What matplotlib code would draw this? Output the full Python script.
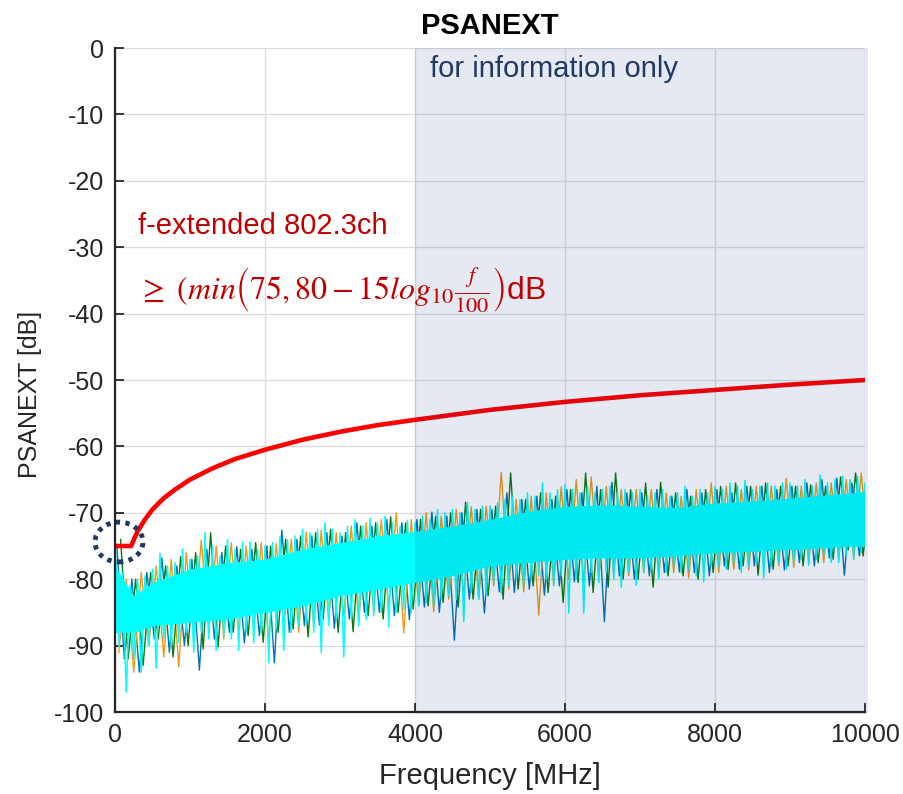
import matplotlib
matplotlib.use("Agg")
import matplotlib.pyplot as plt
from matplotlib.patches import Ellipse, Rectangle
import numpy as np

plt.rcParams['font.family'] = ['Liberation Sans', 'DejaVu Sans']
plt.rcParams['axes.unicode_minus'] = False

# limit line
limit_f = [0, 215, 300, 400, 500, 650, 800, 1000, 1300, 1600, 2000, 2500, 3000,
           3500, 4000, 5000, 6000, 7000, 8000, 9000, 10000]
limit_db = [-75, -75, -72.8, -71.0, -69.5, -67.8, -66.5, -65.0, -63.3, -61.9, -60.5,
            -59.0, -57.8, -56.8, -56.0, -54.5, -53.3, -52.3, -51.5, -50.7, -50.0]

# solid core of the measured mass
band_f = [0, 250, 500, 1000, 1500, 2000, 2500, 3000, 3500, 4000, 4500, 5000, 5500,
          6000, 6500, 7000, 7500, 8000, 8500, 9000, 9500, 10000]
band_hi = [-78, -82.5, -80.5, -78.5, -77.5, -77, -75.5, -74.5, -73.5, -72.8, -72, -71,
           -69.8, -69, -68.8, -69, -69.2, -68.5, -68.2, -67.8, -67.3, -66.8]
band_lo = [-88, -88, -87, -86.5, -86, -85, -84, -82.5, -81.5, -80.5, -79.5, -78, -77.5,
           -77, -76.8, -76.8, -76.5, -76, -75.8, -75.5, -75.2, -75]

# cyan trace, every 50 MHz from 0 to 10000
cyan_db = [-74, -90, -79, -97, -81, -92, -80, -94, -79.5, -90,
           -78.5, -93.4, -76.1, -89, -78, -90, -77.5, -89.5, -75.5, -88,
           -77, -91, -76.5, -88, -73, -89, -75, -90.7, -76.5, -88.5,
           -74, -89, -75.5, -90.7, -74.5, -88, -74.4, -89.6, -75.5, -88,
           -75, -92.6, -74.5, -87.5, -73.5, -90.7, -74, -88, -73.5, -87,
           -72.5, -86.5, -73, -88, -72.5, -91.1, -71.5, -87, -72.5, -86,
           -73, -91.7, -72, -86, -71, -87, -72, -86.1, -70.8, -85.5,
           -71.5, -85, -70.5, -87.2, -71.5, -85, -72, -84.5, -71.1, -85,
           -71.5, -84, -70.5, -83.5, -71, -84, -69.5, -83, -70, -82.5,
           -69.5, -83, -70, -86.4, -68.5, -82, -69.5, -83, -69, -82.5,
           -69, -80.5, -68.5, -82.1, -68, -81, -67.5, -80, -68, -81,
           -67, -80, -67.5, -79.5, -65.5, -80, -67, -81, -66.5, -79.5,
           -65.8, -85.1, -66.5, -80, -67, -85.1, -66, -79, -67, -80.5,
           -66.5, -79, -66, -80, -67, -81.2, -66.5, -79, -67, -80.9,
           -66.5, -79, -67.5, -78.5, -67, -80, -66.5, -79, -67.5, -78,
           -67, -79, -66, -78.5, -67.5, -79.5, -66.5, -80.4, -67, -78,
           -66, -78, -66.5, -78.5, -65.5, -77.5, -66, -79, -65.1, -78,
           -66.5, -77.5, -66, -79.8, -65.5, -78, -66, -77.5, -65.5, -78.5,
           -65.5, -77.5, -66, -77, -65, -77.9, -66, -77, -64.3, -76.5,
           -65.5, -77.5, -65, -77.5, -64.5, -76.5, -65, -77, -64.5, -76,
           -65.5]

# other traces, every 100 MHz (shifted by 25, 50 and 75 MHz)
blue_db = [-75, -92, -80, -94, -79, -89, -76.8, -91, -78, -90,
           -77, -93.7, -75.5, -89, -76, -88, -75.1, -89.6, -75.5, -88.5,
           -75, -92.6, -72.6, -88, -74, -87, -73.5, -86.9, -73, -87.4,
           -73.5, -86, -71.5, -85, -72, -85, -71, -85.5, -71.5, -86.1,
           -71, -84.2, -69.9, -85, -70.5, -89.2, -70, -83, -69.5, -85.1,
           -69.5, -81.9, -67, -82, -68, -81.5, -67.5, -82.4, -68, -81,
           -66.5, -80.4, -67, -81, -66, -86.4, -65.4, -79.5, -67, -80,
           -67, -79.5, -66.5, -79, -67.5, -78.9, -66.5, -79, -67, -79.5,
           -66.5, -78, -67, -78.5, -66, -78, -66, -79, -66.5, -78.6,
           -66, -77.5, -65.5, -78, -65, -76.8, -64.8, -79.4, -65.5, -76.5,
           -66]
orange_db = [-91, -80, -94, -79, -90, -78, -91.7, -77, -93.2, -76,
             -89, -74.1, -88, -75, -89, -74.5, -88, -75, -87.5, -74.5,
             -89.5, -74.6, -87, -74, -88, -72.9, -87.2, -72.6, -86, -73,
             -85.5, -72, -86.6, -71.5, -85, -71, -84.5, -70, -88.1, -71,
             -84, -70, -84.9, -70.5, -83, -69.5, -82.5, -69.1, -83, -69,
             -81, -63.9, -81.5, -68, -81.9, -67.5, -85.4, -67, -80.9, -66.1,
             -80, -65, -80.5, -64.6, -80, -66, -79.5, -66.5, -79.5, -66.5,
             -79, -66.5, -79.5, -67, -79, -67.5, -79.8, -66.5, -78.5, -65.5,
             -79, -66, -78.5, -66.5, -78.6, -66, -78.3, -66, -78, -64.8,
             -78.2, -66, -77.5, -65.5, -77.5, -65.5, -77, -65, -77, -64,
             -76]
green_db = [-74, -92, -80, -93, -79, -89, -78, -91.7, -76.6, -90,
            -76, -90.5, -73, -90.2, -75, -88, -75.5, -88.5, -74.5, -89.5,
            -75, -88, -74, -87.5, -73.5, -88.7, -73, -86, -72.5, -88,
            -73, -87.9, -72, -85.5, -71.5, -86, -70.6, -85, -71.5, -84.5,
            -71, -84, -70.5, -83.5, -70, -84.2, -68.4, -83, -69.5, -82.5,
            -69, -83, -64, -81.5, -68, -81, -67, -82, -67.5, -83.5,
            -66.5, -80.5, -64, -82, -66.5, -81.2, -64, -80, -66.5, -80,
            -65.5, -81.2, -65.4, -79.5, -67, -79.5, -67.5, -80, -66.5, -79,
            -66, -78.5, -65.5, -78, -66, -79.4, -65.5, -78.5, -66, -78,
            -66, -78, -65.8, -77.5, -66, -77, -64.6, -75.6, -64, -76.5,
            -66]

cyan_f = np.arange(0, 10001, 50)
coarse_f = np.arange(0, 10001, 100)

fig = plt.figure(figsize=(9.04, 7.94), dpi=100)
ax = fig.add_axes([115 / 904, 82 / 794, 750 / 904, 664 / 794])

ax.plot(coarse_f + 25, blue_db, color='#0072BD', lw=1.0, zorder=2)
ax.plot(coarse_f + 50, orange_db, color='#EE9A1A', lw=1.0, zorder=2)
ax.plot(coarse_f + 75, green_db, color='#0B7A0B', lw=1.0, zorder=2)
ax.fill_between(band_f, band_lo, band_hi, color='#00FFFF', lw=0, zorder=2.2)
ax.plot(cyan_f, cyan_db, color='#00FFFF', lw=1.1, zorder=2.3)

ax.plot(limit_f, limit_db, color='#FF0000', lw=3.3, zorder=3, solid_capstyle='butt')

# "for information only" overlay
ax.add_patch(Rectangle((4000, -100.35), 6040, 100.35, facecolor='#052D7D',
                       alpha=0.1, lw=0, zorder=4, clip_on=False))

ax.add_patch(Ellipse((53, -74.4), 640, 6.0, fill=False, edgecolor='#1F3864',
                     lw=3.5, linestyle=(0, (0.9, 1.1)), zorder=5, clip_on=False))

ax.set_xlim(0, 10000)
ax.set_ylim(-100, 0)
ax.set_xticks(np.arange(0, 10001, 2000))
ax.set_yticks(np.arange(-100, 1, 10))
ax.grid(True, color='#DCDCDC', lw=1.0)
ax.set_axisbelow(True)

for s in ['top', 'right']:
    ax.spines[s].set_visible(False)
for s in ['left', 'bottom']:
    ax.spines[s].set_color('#262626')
    ax.spines[s].set_linewidth(1.6)
    ax.spines[s].set_zorder(6)
ax.tick_params(direction='in', length=6.5, width=1.3, colors='#262626',
               labelsize=18, pad=8)

ax.set_xlabel('Frequency [MHz]', fontsize=21, color='#262626')
ax.xaxis.set_label_coords(0.5, -0.096)
ax.xaxis.label.set_va('center')
ax.set_ylabel('PSANEXT [dB]', fontsize=18, color='#262626')
ax.yaxis.set_label_coords(-0.113, 0.479)
ax.yaxis.label.set_va('center')
fig.text(490 / 904, 1 - 26 / 794, 'PSANEXT', ha='center', va='center',
         fontsize=21, fontweight='bold')

ax.text(4200, -3.1, 'for information only', color='#1F3864', fontsize=21,
        va='center', ha='left', zorder=6)
ax.text(300, -26.8, 'f-extended 802.3ch', color='#C00000', fontsize=21,
        va='center', ha='left', zorder=6)
ax.text(300, -36.6, r'$\geq\ (min\left(75,80-15log_{10}\frac{f}{100}\right)$dB',
        color='#C00000', fontsize=23, va='center', ha='left', zorder=6,
        math_fontfamily='stix')

fig.savefig('out.png', dpi=100)
